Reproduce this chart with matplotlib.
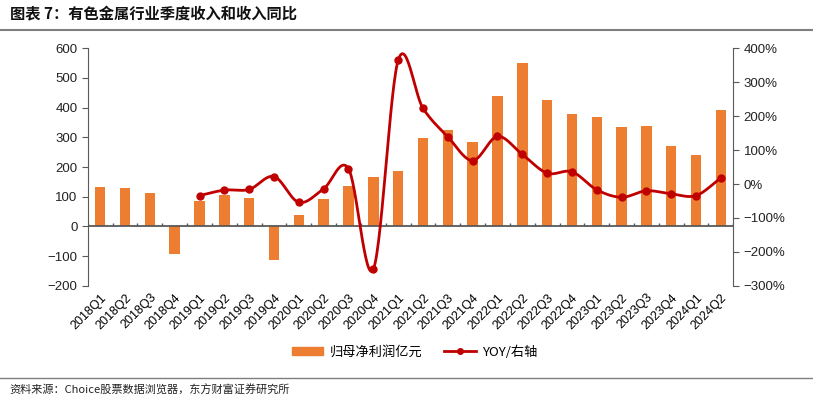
import numpy as np
import matplotlib.pyplot as plt
from matplotlib.lines import Line2D
from matplotlib.patches import Patch

plt.rcParams['font.family'] = ['Liberation Sans', 'Noto Sans CJK SC', 'DejaVu Sans']

quarters = ['2018Q1', '2018Q2', '2018Q3', '2018Q4', '2019Q1', '2019Q2', '2019Q3', '2019Q4',
            '2020Q1', '2020Q2', '2020Q3', '2020Q4', '2021Q1', '2021Q2', '2021Q3', '2021Q4',
            '2022Q1', '2022Q2', '2022Q3', '2022Q4', '2023Q1', '2023Q2', '2023Q3', '2023Q4',
            '2024Q1', '2024Q2']
profit = [133, 130, 113, -93, 87, 107, 96, -113,
          40, 92, 137, 168, 185, 296, 323, 283,
          438, 549, 424, 380, 367, 336, 338, 271,
          241, 392]
# YOY in %, starting at 2019Q1
yoy = [-34, -18, -16, 22, -54, -14, 45, -251, 364, 223, 139, 69,
       140, 87, 32, 36, -17, -39, -20, -29, -34, 18]
yoy_start = 4

BAR = '#ED7D31'
LINE = '#C00000'
AX = '#595959'


def catmull_rom(x, y, n=30):
    x = np.asarray(x, float)
    y = np.asarray(y, float)
    px = np.concatenate([[2 * x[0] - x[1]], x, [2 * x[-1] - x[-2]]])
    py = np.concatenate([[2 * y[0] - y[1]], y, [2 * y[-1] - y[-2]]])
    xs, ys = [], []
    t = np.linspace(0, 1, n)
    for i in range(1, len(px) - 2):
        for p, out in ((px, xs), (py, ys)):
            p0, p1, p2, p3 = p[i - 1], p[i], p[i + 1], p[i + 2]
            out.append(0.5 * (2 * p1 + (-p0 + p2) * t
                              + (2 * p0 - 5 * p1 + 4 * p2 - p3) * t ** 2
                              + (-p0 + 3 * p1 - 3 * p2 + p3) * t ** 3))
    return np.concatenate(xs), np.concatenate(ys)


fig = plt.figure(figsize=(8.13, 4.01), dpi=100)
ax = fig.add_axes([0.108, 0.287, 0.794, 0.593])
ax2 = ax.twinx()

x = np.arange(len(quarters))
ax.bar(x, profit, width=0.42, color=BAR, zorder=2)
ax.set_xlim(-0.5, len(quarters) - 0.5)
ax.set_ylim(-200, 600)
ax.set_yticks(range(-200, 601, 100))
ax.set_yticklabels([f'{v:d}'.replace('-', '\u2212') for v in range(-200, 601, 100)])
ax.set_xticks(x)
ax.set_xticklabels(quarters, rotation=45, ha='right', rotation_mode='anchor', fontsize=9)
ax.tick_params(axis='x', length=0, pad=4)
ax.tick_params(axis='y', labelsize=9.5, length=4, color=AX, labelcolor='#222222')

ax.axhline(0, color=AX, lw=1.3, zorder=3)
ax.vlines(np.arange(len(quarters) + 1) - 0.5, 0, 12, color=AX, lw=1, zorder=3)

xl = x[yoy_start:]
sx, sy = catmull_rom(xl, yoy)
ax2.plot(sx, sy, color=LINE, lw=2, zorder=4)
ax2.plot(xl, yoy, 'o', color=LINE, ms=5, zorder=5)
ax2.set_ylim(-300, 400)
ax2.set_yticks(range(-300, 401, 100))
ax2.set_yticklabels([f'{v:d}%'.replace('-', '\u2212') for v in range(-300, 401, 100)])
ax2.tick_params(axis='y', labelsize=9.5, length=4, color=AX, labelcolor='#222222')

for a in (ax, ax2):
    a.spines['top'].set_visible(False)
    a.spines['bottom'].set_visible(False)
    a.spines['left'].set_color(AX)
    a.spines['right'].set_color(AX)
ax.spines['right'].set_visible(False)
ax2.spines['left'].set_visible(False)

handles = [Patch(color=BAR), Line2D([], [], color=LINE, lw=2, marker='o', ms=4)]
fig.legend(handles, ['归母净利润亿元', 'YOY/右轴'], loc='center', bbox_to_anchor=(0.51, 0.122),
           ncol=2, frameon=False, handlelength=2.4, handleheight=0.6, handletextpad=0.5,
           columnspacing=1.6, prop={'family': ['Noto Sans CJK SC', 'DejaVu Sans'], 'size': 9.5})

fig.text(0.012, 0.965, '图表 7：有色金属行业季度收入和收入同比', fontsize=11, fontweight='bold',
         family=['Noto Sans CJK SC', 'DejaVu Sans'], va='center', color='#111111')
fig.add_artist(Line2D([0.0, 1.0], [0.925, 0.925], color='#7f7f7f', lw=1.5))
fig.add_artist(Line2D([0.0, 1.0], [0.058, 0.058], color='#7f7f7f', lw=1.0))
fig.text(0.012, 0.027, '资料来源：Choice股票数据浏览器，东方财富证券研究所', fontsize=8,
         family=['Noto Sans CJK SC', 'DejaVu Sans'], va='center', color='#222222')

fig.savefig('out.png', dpi=100)
